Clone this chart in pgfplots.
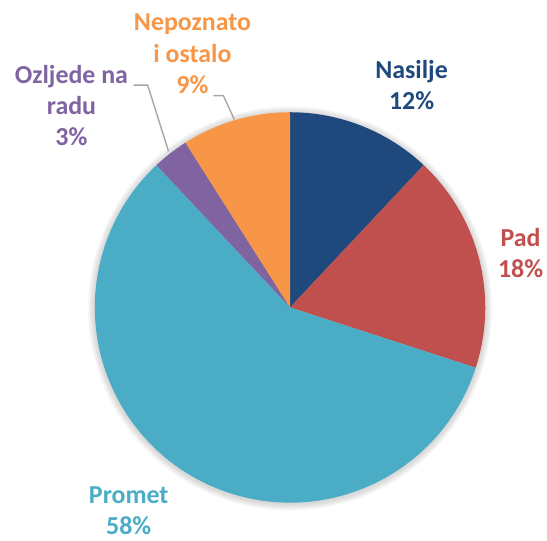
\documentclass[border=0pt]{standalone}
\usepackage{pgfplots}
\pgfplotsset{compat=1.18}
\usepackage{pgfplotstable}
\usepackage{fontspec}
\setmainfont{Carlito}
\definecolor{pie0}{HTML}{1F497D}
\definecolor{pie1}{HTML}{C0504D}
\definecolor{pie2}{HTML}{4BACC6}
\definecolor{pie3}{HTML}{8064A2}
\definecolor{pie4}{HTML}{F79646}
\definecolor{leader}{HTML}{A6A6A6}
\pgfplotstableread{
label value
Nasilje 12
Pad 18
Promet 58
Ozljede 3
Nepoznato 9
}\piedata
\begin{document}
\def\cum{90}
\foreach \i in {0,...,4}{%
  \pgfplotstablegetelem{\i}{value}\of\piedata
  \pgfmathsetmacro\tmp{\cum-3.6*\pgfplotsretval}%
  \expandafter\xdef\csname angS\i\endcsname{\cum}%
  \expandafter\xdef\csname angE\i\endcsname{\tmp}%
  \xdef\cum{\tmp}%
}%
\begin{tikzpicture}
\begin{axis}[
  scale only axis, width=547bp, height=543bp,
  xmin=0, xmax=547, ymin=0, ymax=543,
  hide axis, clip=false,
]
\pgfplotsinvokeforeach{1,...,7}{%
  \fill[black, opacity=0.025] (axis cs:289,233.3) circle[radius=196bp+#1bp];
}
\pgfplotsinvokeforeach{0,...,4}{%
  \fill[pie#1] (axis cs:289,234.3) -- ++(\csname angS#1\endcsname:196bp)
    arc[start angle=\csname angS#1\endcsname, end angle=\csname angE#1\endcsname, radius=196bp] -- cycle;
}
\draw[leader, line width=1.4bp] (axis cs:132,457.5) -- (axis cs:146,457.5) -- (axis cs:167,391);
\draw[leader, line width=1.4bp] (axis cs:212,447) -- (axis cs:222,447) -- (axis cs:233,423);
\tikzset{lbl/.style={align=center, inner sep=0pt, font=\fontsize{26bp}{31.5bp}\selectfont\bfseries}}
\node[lbl, text=pie0] at (axis cs:411,457.5) {Nasilje\\12\%};
\node[lbl, text=pie1] at (axis cs:520.5,289) {Pad\\18\%};
\node[lbl, text=pie2] at (axis cs:127,30) {Promet\\58\%};
\node[lbl, text=pie3] at (axis cs:69.5,437) {Ozljede na\\radu\\3\%};
\node[lbl, text=pie4] at (axis cs:191,489) {Nepoznato\\i ostalo\\9\%};
\end{axis}
\pgfresetboundingbox
\path (current axis.south west) rectangle (current axis.north east);
\end{tikzpicture}
\end{document}
